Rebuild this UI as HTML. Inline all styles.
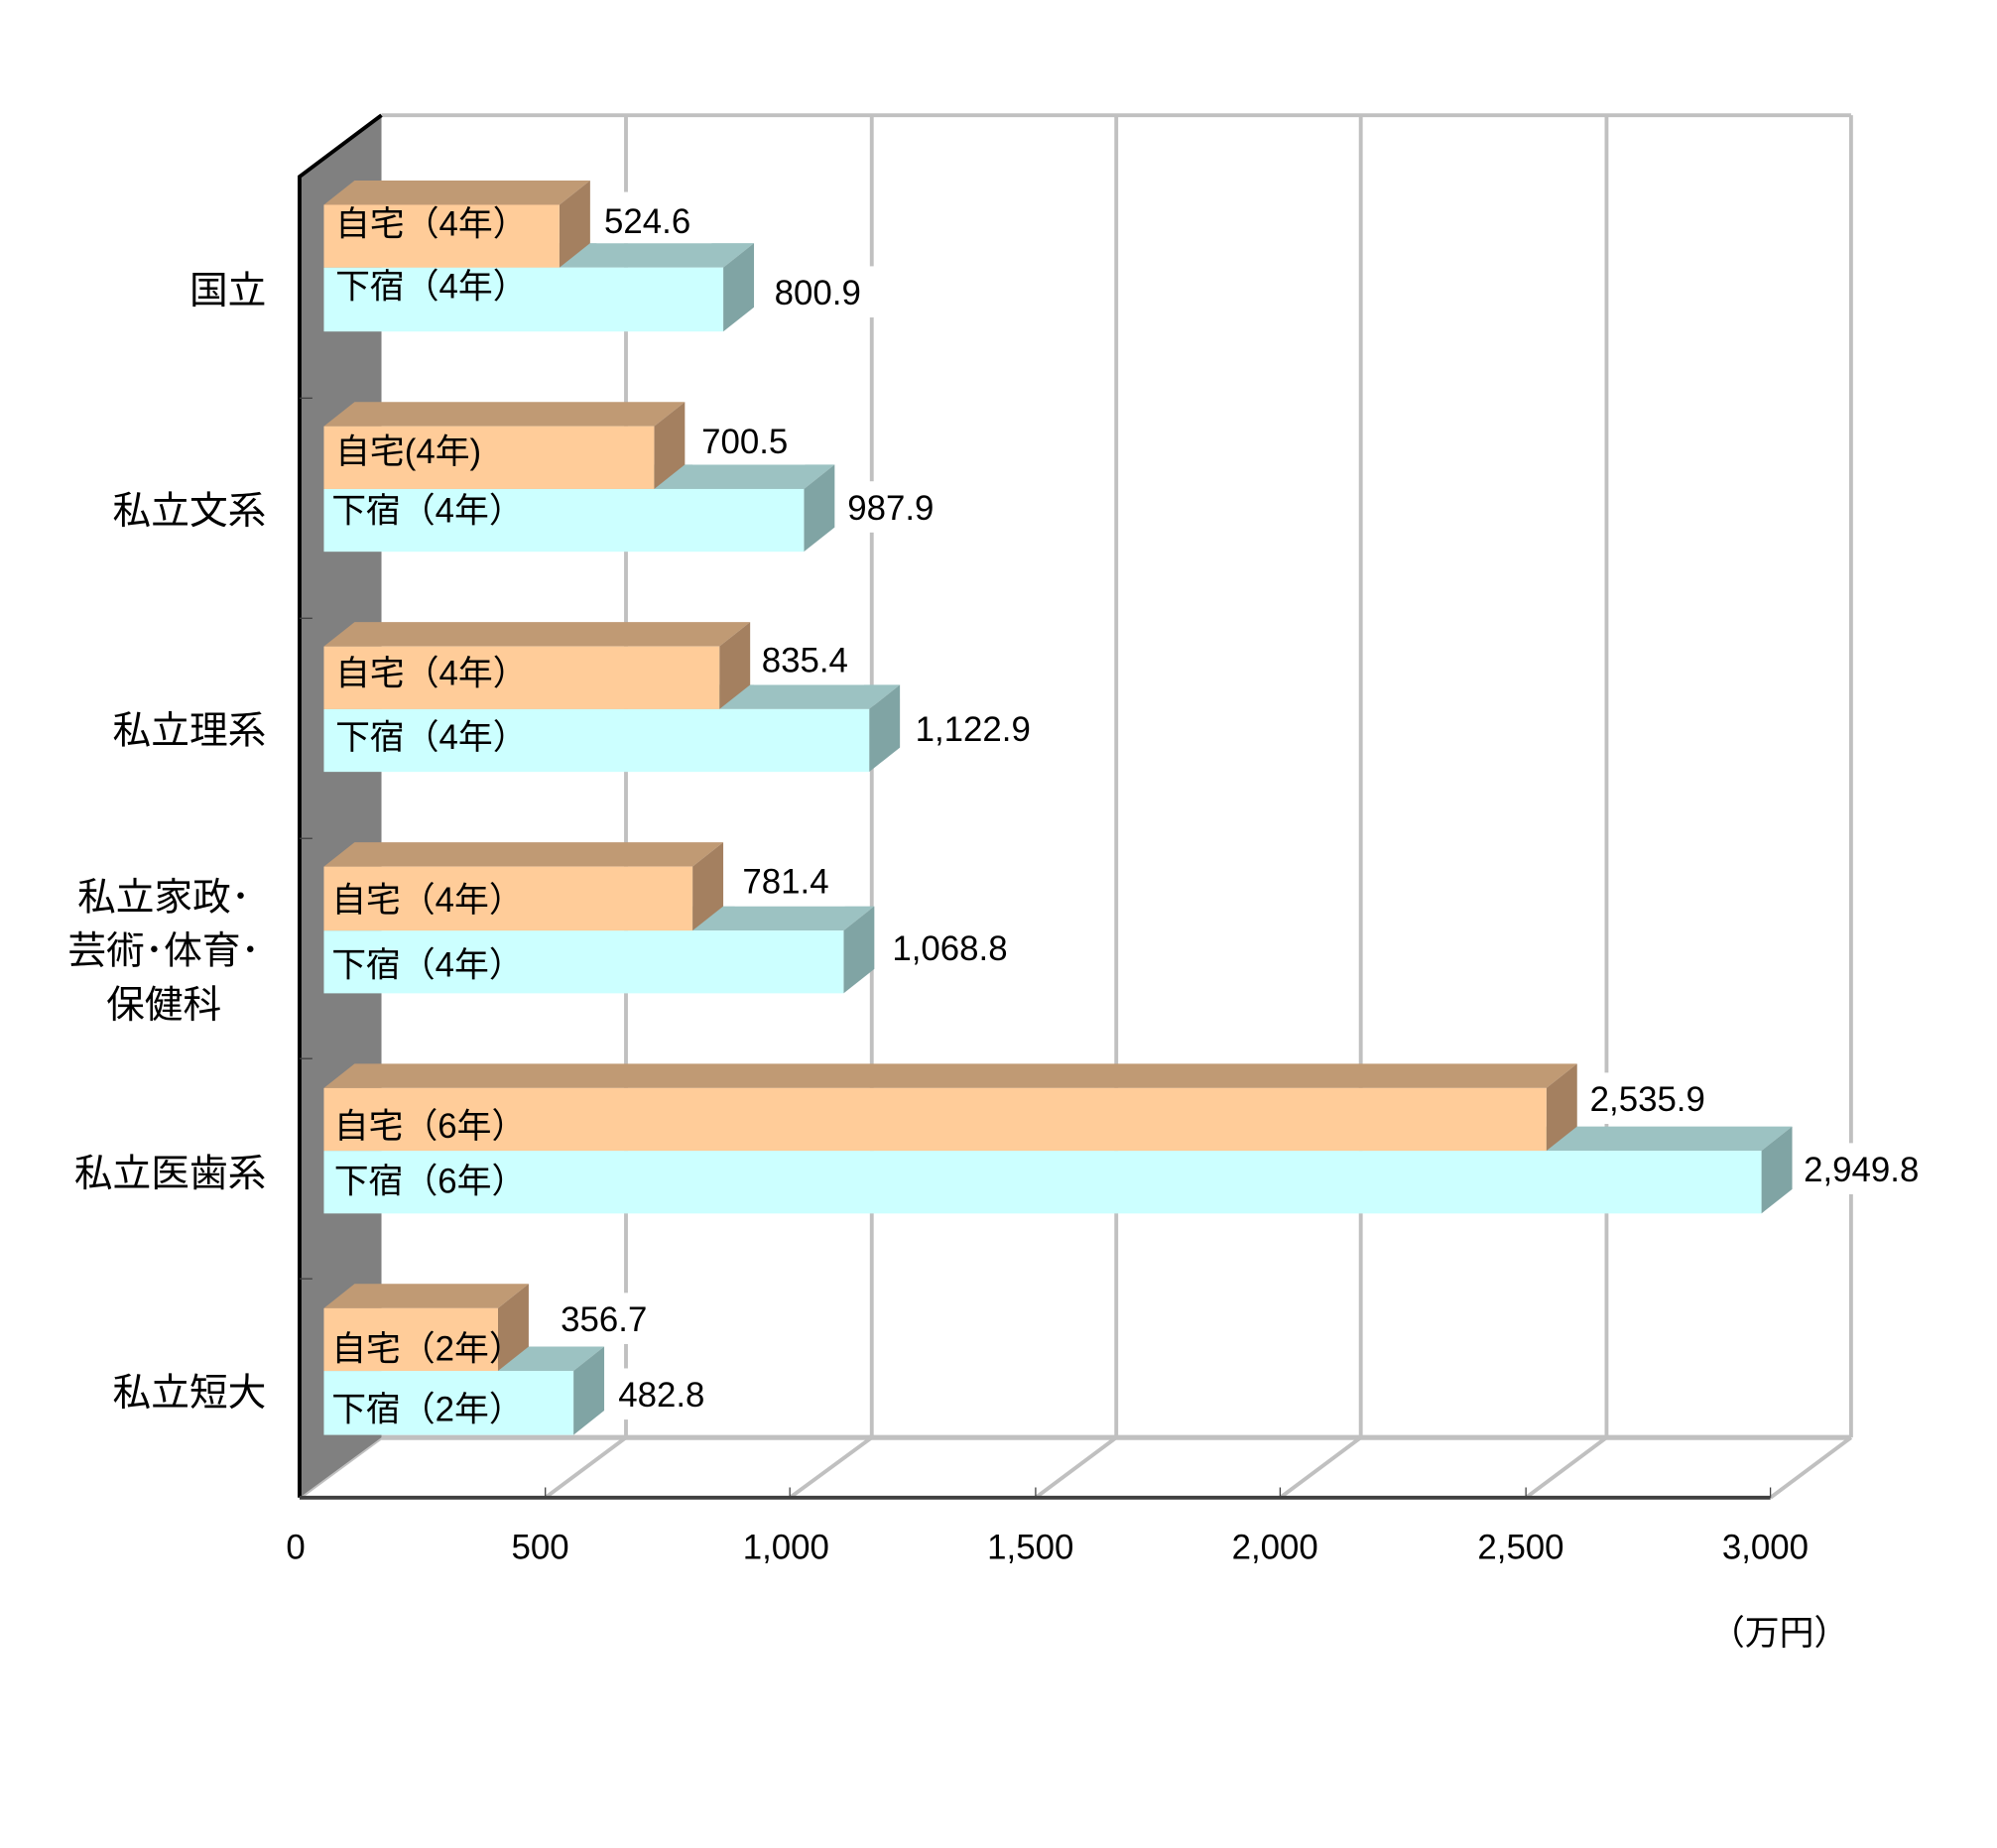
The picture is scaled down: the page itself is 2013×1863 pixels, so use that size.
<!DOCTYPE html>
<html><head><meta charset="utf-8"><style>
html,body{margin:0;padding:0;background:#fff;}
svg{display:block;}
text{font-family:"Liberation Sans","Noto Sans CJK JP",sans-serif;fill:#000;}
</style></head><body>
<svg width="2013" height="1863" viewBox="0 0 1560 1443.7" preserveAspectRatio="none" xmlns="http://www.w3.org/2000/svg">
<rect width="1560" height="1443.7" fill="#fff"/>
<g stroke="#c0c0c0" stroke-width="3" fill="none">
<line x1="298" y1="90" x2="1446" y2="90"/>
<line x1="489" y1="90" x2="489" y2="1123"/>
<line x1="681" y1="90" x2="681" y2="1123"/>
<line x1="872" y1="90" x2="872" y2="1123"/>
<line x1="1063" y1="90" x2="1063" y2="1123"/>
<line x1="1255" y1="90" x2="1255" y2="1123"/>
<line x1="1446" y1="90" x2="1446" y2="1123"/>
<line x1="298" y1="1123" x2="1446" y2="1123" stroke-width="4"/>
<line x1="234" y1="1170" x2="298" y2="1123"/>
<line x1="426" y1="1170" x2="489" y2="1123"/>
<line x1="617" y1="1170" x2="681" y2="1123"/>
<line x1="809" y1="1170" x2="872" y2="1123"/>
<line x1="1000" y1="1170" x2="1063" y2="1123"/>
<line x1="1192" y1="1170" x2="1255" y2="1123"/>
<line x1="1383" y1="1170" x2="1446" y2="1123"/>
</g>
<polygon points="234,138 298,90 298,1123 234,1170" fill="#808080"/>
<polyline points="234,1170 234,138 298,90" fill="none" stroke="#000" stroke-width="3"/>
<line x1="234" y1="1170" x2="1383" y2="1170" stroke="#404040" stroke-width="3"/>
<g stroke="#404040" stroke-width="1">
<line x1="426" y1="1170" x2="426" y2="1162"/><line x1="617" y1="1170" x2="617" y2="1162"/>
<line x1="809" y1="1170" x2="809" y2="1162"/><line x1="1000" y1="1170" x2="1000" y2="1162"/>
<line x1="1192" y1="1170" x2="1192" y2="1162"/><line x1="1383" y1="1170" x2="1383" y2="1162"/>
<line x1="234" y1="311" x2="244" y2="311"/><line x1="234" y1="483" x2="244" y2="483"/>
<line x1="234" y1="655" x2="244" y2="655"/><line x1="234" y1="827" x2="244" y2="827"/>
<line x1="234" y1="999" x2="244" y2="999"/>
</g>

<g>
<polygon points="253,209 277,190 589,190 565,209" fill="#9cc2c2"/>
<polygon points="565,209 589,190 589,240 565,259" fill="#80a4a4"/>
<rect x="253" y="209" width="312" height="50" fill="#ccffff"/>
<polygon points="253,160 277,141 461,141 437,160" fill="#c09a74"/>
<polygon points="437,160 461,141 461,190 437,209" fill="#a48060"/>
<rect x="253" y="160" width="184" height="49" fill="#ffcc99"/>

<polygon points="253,382 277,363 652,363 628,382" fill="#9cc2c2"/>
<polygon points="628,382 652,363 652,412 628,431" fill="#80a4a4"/>
<rect x="253" y="382" width="375" height="49" fill="#ccffff"/>
<polygon points="253,333 277,314 535,314 511,333" fill="#c09a74"/>
<polygon points="511,333 535,314 535,363 511,382" fill="#a48060"/>
<rect x="253" y="333" width="258" height="49" fill="#ffcc99"/>

<polygon points="253,554 277,535 703,535 679,554" fill="#9cc2c2"/>
<polygon points="679,554 703,535 703,584 679,603" fill="#80a4a4"/>
<rect x="253" y="554" width="426" height="49" fill="#ccffff"/>
<polygon points="253,505 277,486 586,486 562,505" fill="#c09a74"/>
<polygon points="562,505 586,486 586,535 562,554" fill="#a48060"/>
<rect x="253" y="505" width="309" height="49" fill="#ffcc99"/>

<polygon points="253,727 277,708 683,708 659,727" fill="#9cc2c2"/>
<polygon points="659,727 683,708 683,757 659,776" fill="#80a4a4"/>
<rect x="253" y="727" width="406" height="49" fill="#ccffff"/>
<polygon points="253,677 277,658 565,658 541,677" fill="#c09a74"/>
<polygon points="541,677 565,658 565,708 541,727" fill="#a48060"/>
<rect x="253" y="677" width="288" height="50" fill="#ffcc99"/>

<polygon points="253,899 277,880 1400,880 1376,899" fill="#9cc2c2"/>
<polygon points="1376,899 1400,880 1400,929 1376,948" fill="#80a4a4"/>
<rect x="253" y="899" width="1123" height="49" fill="#ccffff"/>
<polygon points="253,850 277,831 1232,831 1208,850" fill="#c09a74"/>
<polygon points="1208,850 1232,831 1232,880 1208,899" fill="#a48060"/>
<rect x="253" y="850" width="955" height="49" fill="#ffcc99"/>

<polygon points="253,1071 277,1052 472,1052 448,1071" fill="#9cc2c2"/>
<polygon points="448,1071 472,1052 472,1102 448,1121" fill="#80a4a4"/>
<rect x="253" y="1071" width="195" height="50" fill="#ccffff"/>
<polygon points="253,1022 277,1003 413,1003 389,1022" fill="#c09a74"/>
<polygon points="389,1022 413,1003 413,1052 389,1071" fill="#a48060"/>
<rect x="253" y="1022" width="136" height="49" fill="#ffcc99"/>
</g>

<g fill="#fff">
<rect x="466" y="150" width="90" height="40"/><rect x="598" y="208" width="86" height="40"/>
<rect x="541" y="323" width="88" height="40"/><rect x="656" y="376" width="86" height="40"/>
<rect x="589" y="495" width="86" height="40"/><rect x="709" y="549" width="106" height="40"/>
<rect x="574" y="668" width="86" height="40"/><rect x="691" y="720" width="106" height="40"/>
<rect x="1236" y="838" width="106" height="40"/><rect x="1403" y="893" width="106" height="40"/>
<rect x="432" y="1010" width="86" height="40"/><rect x="477" y="1069" width="86" height="40"/>
</g>
<g font-size="27">
<text x="472" y="182">524.6</text><text x="605" y="238">800.9</text>
<text x="548" y="354">700.5</text><text x="662" y="406">987.9</text>
<text x="595" y="525">835.4</text><text x="715" y="579">1,122.9</text>
<text x="580" y="698">781.4</text><text x="697" y="750">1,068.8</text>
<text x="1242" y="868">2,535.9</text><text x="1409" y="923">2,949.8</text>
<text x="438" y="1040">356.7</text><text x="483" y="1099">482.8</text>
</g>
<g font-size="27">
<text x="262" y="184">自宅（4年）</text><text x="262" y="233">下宿（4年）</text>
<text x="262" y="362">自宅(4年)</text><text x="259" y="408">下宿（4年）</text>
<text x="262" y="535">自宅（4年）</text><text x="262" y="585">下宿（4年）</text>
<text x="259" y="712">自宅（4年）</text><text x="259" y="763">下宿（4年）</text>
<text x="261" y="889">自宅（6年）</text><text x="261" y="932">下宿（6年）</text>
<text x="259" y="1063">自宅（2年）</text><text x="259" y="1110">下宿（2年）</text>
</g>
<g font-size="30" text-anchor="end">
<text x="208" y="237">国立</text>
<text x="208" y="409">私立文系</text>
<text x="208" y="581">私立理系</text>
<text x="208" y="927">私立医歯系</text>
<text x="208" y="1098">私立短大</text>
</g>
<g font-size="30" text-anchor="middle">
<text x="128" y="711">私立家政･</text>
<text x="128" y="753">芸術･体育･</text>
<text x="128" y="795">保健科</text>
</g>
<g font-size="27" text-anchor="middle">
<text x="231" y="1218">0</text><text x="422" y="1218">500</text>
<text x="614" y="1218">1,000</text><text x="805" y="1218">1,500</text>
<text x="996" y="1218">2,000</text><text x="1188" y="1218">2,500</text>
<text x="1379" y="1218">3,000</text>
<text x="1390" y="1285">（万円）</text>
</g>
</svg>
</body></html>
